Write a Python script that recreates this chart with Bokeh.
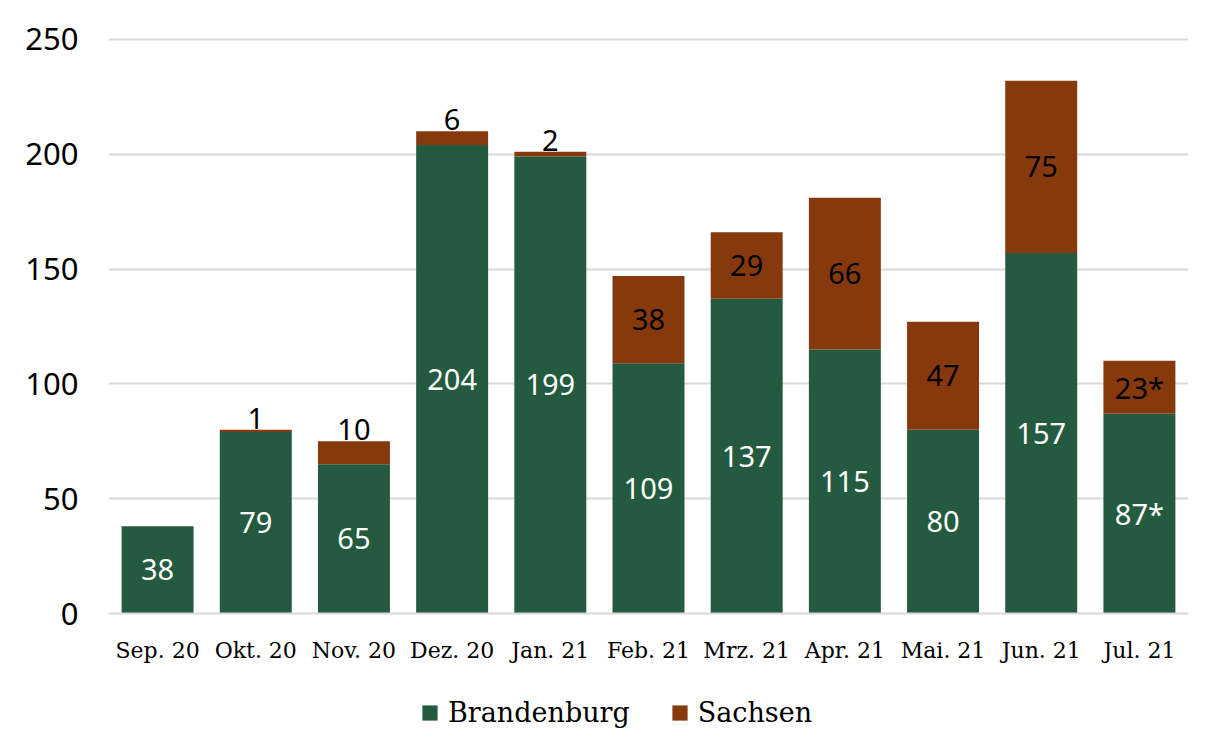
from bokeh.plotting import figure
from bokeh.models import ColumnDataSource, Legend, LegendItem, FixedTicker, Range1d
from bokeh.layouts import column
from bokeh.core.properties import value
from bokeh.embed import file_html
from bokeh.resources import INLINE

months = ["Sep. 20", "Okt. 20", "Nov. 20", "Dez. 20", "Jan. 21", "Feb. 21",
          "Mrz. 21", "Apr. 21", "Mai. 21", "Jun. 21", "Jul. 21"]
brandenburg = [38, 79, 65, 204, 199, 109, 137, 115, 80, 157, 87]
sachsen = [0, 1, 10, 6, 2, 38, 29, 66, 47, 75, 23]
brandenburg_labels = ["38", "79", "65", "204", "199", "109", "137", "115", "80", "157", "87*"]
sachsen_labels = ["", "1", "10", "6", "2", "38", "29", "66", "47", "75", "23*"]
y_ticks = [0, 50, 100, 150, 200, 250]

GREEN = "#245b40"
BROWN = "#86390d"
GRID = "#d9d9d9"

p = figure(x_range=months, y_range=Range1d(0, 250.8), width=1197, height=680,
           output_backend="svg", toolbar_location=None,
           min_border_left=108, min_border_right=9, min_border_top=37, min_border_bottom=67)
p.outline_line_color = None
p.x_range.range_padding = 0

top_s = [b + s for b, s in zip(brandenburg, sachsen)]
src = ColumnDataSource(dict(x=months, b=brandenburg, s_bottom=brandenburg, s_top=top_s))
rb = p.vbar(x="x", top="b", bottom=0, width=0.733, fill_color=GREEN, line_color=None, source=src)
rs = p.vbar(x="x", top="s_top", bottom="s_bottom", width=0.733, fill_color=BROWN, line_color=None, source=src)

# labels
b_y = [v / 2 for v in brandenburg]
p.text(x=months, y=b_y, text=brandenburg_labels, text_color="white",
       text_font=value("Noto Sans"), text_font_size="29px",
       text_align="center", text_baseline="middle")
small = [s <= 10 for s in sachsen]
s_in_x = [m for m, sm in zip(months, small) if not sm]
s_in_y = [b + s / 2 for b, s, sm in zip(brandenburg, sachsen, small) if not sm]
s_in_t = [t for t, sm in zip(sachsen_labels, small) if not sm]
p.text(x=s_in_x, y=s_in_y, text=s_in_t, text_color="black",
       text_font=value("Noto Sans"), text_font_size="29px",
       text_align="center", text_baseline="middle")
s_out_x = [m for m, sm in zip(months, small) if sm]
s_out_y = [b + s for b, s, sm in zip(brandenburg, sachsen, small) if sm]
s_out_t = [t for t, sm in zip(sachsen_labels, small) if sm]
p.text(x=s_out_x, y=s_out_y, text=s_out_t, text_color="black",
       text_font=value("Noto Sans"), text_font_size="29px",
       text_align="center", text_baseline="bottom", y_offset=-1)

# axes
p.yaxis.ticker = FixedTicker(ticks=y_ticks)
p.yaxis.axis_line_color = None
p.yaxis.major_tick_line_color = None
p.yaxis.minor_tick_line_color = None
p.yaxis.major_label_text_font = "Noto Sans"
p.yaxis.major_label_text_font_size = "31px"
p.yaxis.major_label_text_color = "black"
p.yaxis.major_label_standoff = 24

p.xaxis.axis_line_color = GRID
p.xaxis.axis_line_width = 2
p.xaxis.major_tick_line_color = None
p.xaxis.minor_tick_line_color = None
p.xaxis.major_label_text_font = "DejaVu Serif"
p.xaxis.major_label_text_font_size = "22px"
p.xaxis.major_label_text_color = "black"
p.xaxis.major_label_standoff = 18

p.xgrid.grid_line_color = None
p.ygrid.grid_line_color = GRID
p.ygrid.grid_line_width = 2

# legend strip (its series renderers are hidden; only the legend shows)
lg = figure(width=1197, height=64, output_backend="svg", toolbar_location=None,
            x_range=months, y_range=Range1d(0, 1),
            min_border_left=0, min_border_right=0, min_border_top=0, min_border_bottom=0)
lg.axis.visible = False
lg.grid.visible = False
lg.outline_line_color = None
lb = lg.vbar(x=months, top=brandenburg, bottom=0, width=0.5, fill_color=GREEN, line_color=None)
ls = lg.vbar(x=months, top=top_s, bottom=brandenburg, width=0.5, fill_color=BROWN, line_color=None)
lb.visible = False
ls.visible = False
legend = Legend(items=[LegendItem(label="Brandenburg", renderers=[lb]),
                       LegendItem(label="Sachsen", renderers=[ls])],
                orientation="horizontal", location=(312, 16),
                label_text_font="DejaVu Serif", label_text_font_size="27px",
                label_text_color="black", inactive_fill_alpha=0,
                glyph_width=19, glyph_height=19, spacing=40, label_standoff=9,
                border_line_color=None, background_fill_alpha=0, margin=0, padding=6)
lg.add_layout(legend, "center")

open("out.html", "w").write(file_html(column(p, lg, spacing=0), INLINE))
